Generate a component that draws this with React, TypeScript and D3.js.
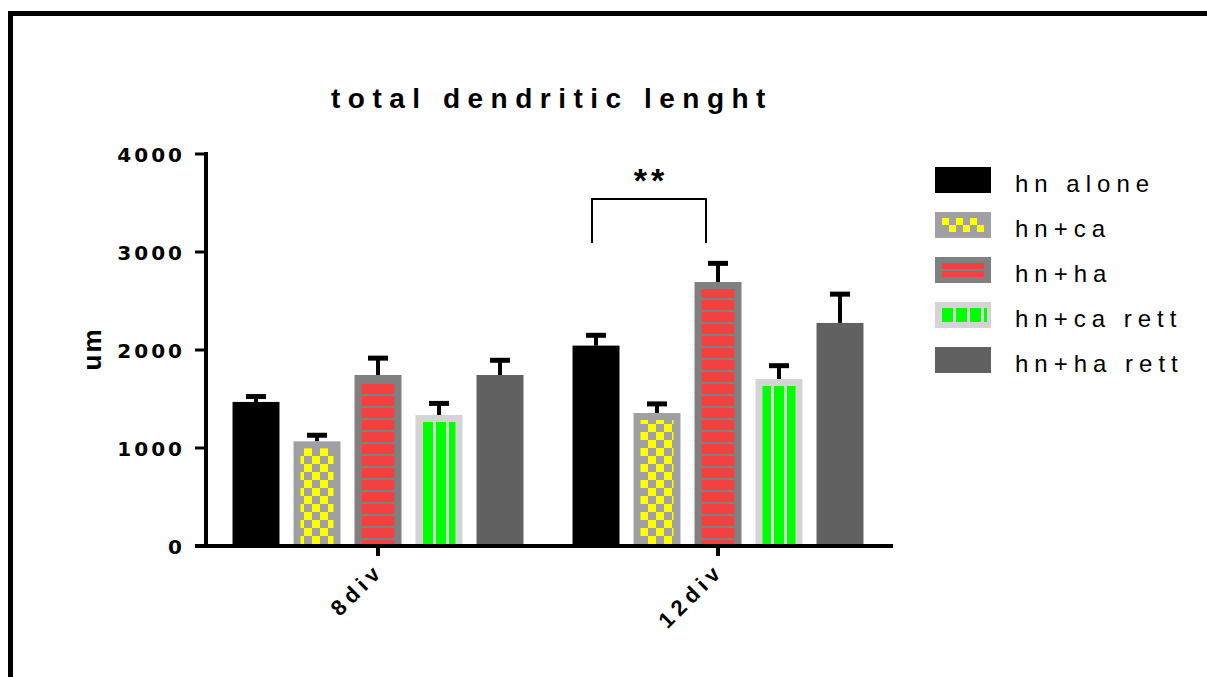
import React, { useEffect, useRef } from "react";
import * as d3 from "d3";

// chart values
const groups = ["8div", "12div"];
const seriesNames = ["hn alone", "hn+ca", "hn+ha", "hn+ca rett", "hn+ha rett"];
const means8div = [1470, 1068, 1745, 1337, 1745];
const means12div = [2045, 1357, 2694, 1704, 2276];
const sem8div = [55, 62, 172, 118, 150];
const sem12div = [105, 93, 190, 136, 294];
const yTicks = [0, 1000, 2000, 3000, 4000];

const FONT = "'Liberation Sans', Arial, sans-serif";
const HEAVY = "'DejaVu Sans', Arial, sans-serif";

// outer fill + inner pattern for each series
const styles = [
  { base: "#000000", inner: null },
  { base: "#a0a0a4", inner: "url(#checker)" },
  { base: "#808080", inner: "url(#hstripes)" },
  { base: "#d4d4d4", inner: "url(#vstripes)" },
  { base: "#616161", inner: null },
];

const App = () => {
  const ref = useRef<SVGSVGElement | null>(null);

  useEffect(() => {
    const svg = d3.select(ref.current);
    svg.selectAll("*").remove();

    const defs = svg.append("defs");
    const checker = defs.append("pattern").attr("id", "checker")
      .attr("patternUnits", "userSpaceOnUse").attr("width", 16).attr("height", 16);
    checker.append("rect").attr("width", 16).attr("height", 16).attr("fill", "#a0a0a4");
    checker.append("rect").attr("width", 8).attr("height", 8).attr("fill", "#ffff00");
    checker.append("rect").attr("x", 8).attr("y", 8).attr("width", 8).attr("height", 8).attr("fill", "#ffff00");

    const hs = defs.append("pattern").attr("id", "hstripes")
      .attr("patternUnits", "userSpaceOnUse").attr("width", 12).attr("height", 12);
    hs.append("rect").attr("width", 12).attr("height", 12).attr("fill", "#808080");
    hs.append("rect").attr("width", 12).attr("height", 10).attr("fill", "#f44040");

    const vs = defs.append("pattern").attr("id", "vstripes")
      .attr("patternUnits", "userSpaceOnUse").attr("width", 13).attr("height", 13)
      .attr("x", 423);
    vs.append("rect").attr("width", 13).attr("height", 13).attr("fill", "#d4d4d4");
    vs.append("rect").attr("width", 10).attr("height", 13).attr("fill", "#00ff00");

    // frame
    svg.append("path")
      .attr("d", "M10.5,677 L10.5,13.5 L1207,13.5")
      .attr("fill", "none").attr("stroke", "#000").attr("stroke-width", 5);

    const y = d3.scaleLinear().domain([0, 4000]).range([546, 154]);
    const x0 = d3.scaleBand().domain(groups).range([208, 888])
      .paddingInner(0.103).paddingOuter(0.0515);
    const x1 = d3.scaleBand().domain(seriesNames).range([0, x0.bandwidth()])
      .paddingInner(0.23).paddingOuter(0.115);

    const data = groups.flatMap((g, gi) =>
      seriesNames.map((s, si) => ({
        g, s, si,
        v: gi === 0 ? means8div[si] : means12div[si],
        e: gi === 0 ? sem8div[si] : sem12div[si],
      }))
    );

    const bars = svg.append("g");
    data.forEach((d) => {
      const bx = (x0(d.g) as number) + (x1(d.s) as number);
      const bw = x1.bandwidth();
      const top = y(d.v);
      const st = styles[d.si];
      // error bar (upper only)
      bars.append("line")
        .attr("x1", bx + bw / 2).attr("x2", bx + bw / 2)
        .attr("y1", top).attr("y2", y(d.v + d.e))
        .attr("stroke", "#000").attr("stroke-width", 4);
      bars.append("line")
        .attr("x1", bx + bw / 2 - 10).attr("x2", bx + bw / 2 + 10)
        .attr("y1", y(d.v + d.e)).attr("y2", y(d.v + d.e))
        .attr("stroke", "#000").attr("stroke-width", 5);
      bars.append("rect")
        .attr("x", bx).attr("y", top).attr("width", bw).attr("height", y(0) - top)
        .attr("fill", st.base);
      if (st.inner) {
        bars.append("rect")
          .attr("x", bx + 7).attr("y", top + 7).attr("width", bw - 14)
          .attr("height", Math.max(0, y(0) - top - 7))
          .attr("fill", st.inner);
      }
    });

    // y axis
    const ya = svg.append("g");
    ya.append("line").attr("x1", 206).attr("x2", 206).attr("y1", 152).attr("y2", 548)
      .attr("stroke", "#000").attr("stroke-width", 4);
    yTicks.forEach((t) => {
      ya.append("line").attr("x1", 195).attr("x2", 206).attr("y1", y(t)).attr("y2", y(t))
        .attr("stroke", "#000").attr("stroke-width", 3);
      ya.append("text").attr("x", 185).attr("y", y(t) + 7.5)
        .attr("text-anchor", "end").attr("font-family", HEAVY).attr("font-weight", "bold")
        .attr("font-size", 20).attr("letter-spacing", 3).text(t);
    });
    svg.append("text")
      .attr("transform", "translate(101,349) rotate(-90)")
      .attr("text-anchor", "middle").attr("font-family", FONT).attr("font-weight", "bold")
      .attr("font-size", 26).attr("letter-spacing", 2).text("um");

    // x axis
    const xa = svg.append("g");
    xa.append("line").attr("x1", 195).attr("x2", 893).attr("y1", 546).attr("y2", 546)
      .attr("stroke", "#000").attr("stroke-width", 4);
    groups.forEach((g) => {
      const cx = (x0(g) as number) + x0.bandwidth() / 2;
      xa.append("line").attr("x1", cx).attr("x2", cx).attr("y1", 546).attr("y2", 556)
        .attr("stroke", "#000").attr("stroke-width", 4);
      xa.append("text")
        .attr("transform", `translate(${cx + 7},${572}) rotate(-45)`)
        .attr("text-anchor", "end").attr("font-family", FONT).attr("font-weight", "bold")
        .attr("font-size", 22).attr("letter-spacing", 5).text(g);
    });

    // significance bracket between hn alone and hn+ha at 12div
    const bA = (x0("12div") as number) + (x1("hn alone") as number) + x1.bandwidth() / 2 - 7;
    const bB = (x0("12div") as number) + (x1("hn+ha") as number) + x1.bandwidth() / 2 - 13;
    svg.append("path")
      .attr("d", `M${bA + 3},243 L${bA + 3},199 L${bB + 1},199 L${bB + 1},243`)
      .attr("fill", "none").attr("stroke", "#000").attr("stroke-width", 2);
    svg.append("text").attr("x", (bA + bB) / 2 + 4).attr("y", 192)
      .attr("text-anchor", "middle").attr("font-family", FONT).attr("font-weight", "bold")
      .attr("font-size", 34).attr("letter-spacing", 4).text("**");

    // title
    svg.append("text").attr("x", 552).attr("y", 108)
      .attr("text-anchor", "middle").attr("font-family", FONT).attr("font-weight", "bold")
      .attr("font-size", 28).attr("letter-spacing", 7.5).text("total dendritic lenght");

    // legend
    const lg = svg.append("g");
    seriesNames.forEach((s, i) => {
      const ly = 167 + i * 45;
      const st = styles[i];
      lg.append("rect").attr("x", 935).attr("y", ly).attr("width", 56).attr("height", 26)
        .attr("fill", st.base);
      if (i === 1) {
        [0, 1, 2].forEach((k) => {
          lg.append("rect").attr("x", 942 + k * 14).attr("y", ly + 6).attr("width", 7).attr("height", 7).attr("fill", "#ffff00");
          lg.append("rect").attr("x", 949 + k * 14).attr("y", ly + 13).attr("width", 7).attr("height", 7).attr("fill", "#ffff00");
        });
      } else if (i === 2) {
        lg.append("rect").attr("x", 942).attr("y", ly + 6).attr("width", 42).attr("height", 6).attr("fill", "#f44040");
        lg.append("rect").attr("x", 942).attr("y", ly + 14).attr("width", 42).attr("height", 6).attr("fill", "#f44040");
      } else if (i === 3) {
        [0, 1, 2, 3].forEach((k) => {
          lg.append("rect").attr("x", 942 + k * 14).attr("y", ly + 6)
            .attr("width", k === 3 ? 3 : 11).attr("height", 14).attr("fill", "#00ff00");
        });
      }
      lg.append("text").attr("x", 1015).attr("y", ly + 25)
        .attr("font-family", FONT).attr("font-size", 24).attr("letter-spacing", 6).text(s);
    });
  }, []);

  return (
    <svg
      ref={ref}
      width={1207}
      height={677}
      style={{ position: "absolute", left: 0, top: 0, background: "#fff" }}
    />
  );
};

export default App;
